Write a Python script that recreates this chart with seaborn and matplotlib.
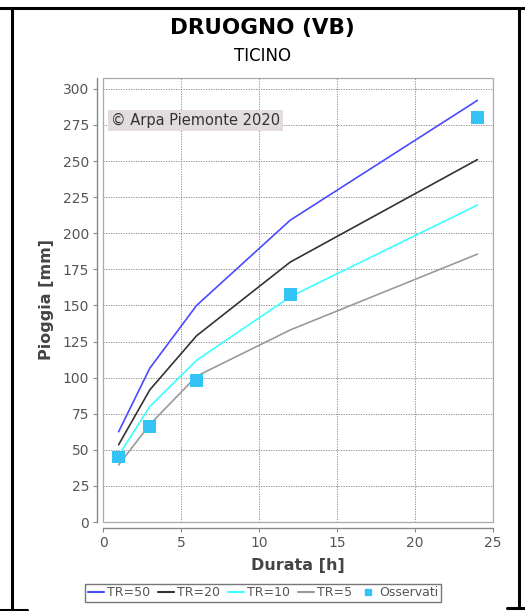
import numpy as np
import pandas as pd
import matplotlib
matplotlib.use("Agg")
import matplotlib.pyplot as plt
from matplotlib.lines import Line2D
from matplotlib.patches import Rectangle
import seaborn as sns

durations = [1, 3, 6, 12, 24]
tr50 = [62.5, 106.5, 150, 209, 292]
tr20 = [53.5, 91.5, 129, 180, 251]
tr10 = [46, 80, 112, 156, 219.5]
tr5 = [39.5, 67.5, 101, 133, 185.5]
obs_dur = [1, 3, 6, 12, 24]
obs_val = [45, 66, 98, 157.5, 280]
series_names = ["TR=50", "TR=20", "TR=10", "TR=5"]
colors = {"TR=50": "#4a4aff", "TR=20": "#333333", "TR=10": "#3cffff", "TR=5": "#9a9a9a"}
obs_color = "#33c4f5"

rows = []
for name, vals in zip(series_names, [tr50, tr20, tr10, tr5]):
    for d, v in zip(durations, vals):
        rows.append({"Durata": d, "Pioggia": v, "Serie": name})
df = pd.DataFrame(rows)
dobs = pd.DataFrame({"Durata": obs_dur, "Pioggia": obs_val})

sns.set_theme(style="white")
plt.rcParams['font.family'] = ['DejaVu Sans']

W, H = 525, 611
fig = plt.figure(figsize=(W / 100, H / 100), dpi=100)
ax = fig.add_axes([103 / W, 1 - 522 / H, (493 - 103) / W, (522 - 78) / H])

sns.lineplot(data=df, x="Durata", y="Pioggia", hue="Serie", hue_order=series_names,
             palette=colors, linewidth=1.2, ax=ax, legend=False, sort=False, zorder=3)
sns.scatterplot(data=dobs, x="Durata", y="Pioggia", marker="s", s=85, color=obs_color,
                edgecolor="none", ax=ax, zorder=4, legend=False)

ax.set_xlim(0, 25)
ax.set_ylim(0, 307.5)
ax.set_xticks([0, 5, 10, 15, 20, 25])
ax.set_yticks(np.arange(0, 301, 25))
ax.grid(True, color="#808080", linestyle=(0, (1.5, 1.5)), linewidth=0.6)
ax.set_axisbelow(True)

for s in ["top", "right"]:
    ax.spines[s].set_visible(False)
for s in ["left", "bottom"]:
    ax.spines[s].set_position(("outward", 4))
    ax.spines[s].set_color("#888888")
    ax.spines[s].set_linewidth(1.0)
ax.add_patch(Rectangle((0, 0), 1, 1, transform=ax.transAxes, fill=False,
                       edgecolor="#aaaaaa", linewidth=0.9, zorder=5, clip_on=False))
ax.tick_params(axis="both", which="both", direction="out", length=3, width=0.8,
               color="#888888", labelcolor="#555555", labelsize=10, pad=3,
               left=True, bottom=True)

ax.set_xlabel("Durata [h]", fontsize=11.5, fontweight="bold", color="#444444", labelpad=6)
ax.set_ylabel("Pioggia [mm]", fontsize=11.5, fontweight="bold", color="#444444", labelpad=6)

ax.text(0.02, 0.905, "\u00a9 Arpa Piemonte 2020", transform=ax.transAxes, fontsize=10.5,
        color="#333333", va="center", ha="left", zorder=6,
        bbox=dict(boxstyle="square,pad=0.2", facecolor="#e3dcdc", edgecolor="none"))

fig.text(262 / W, 1 - 28 / H, "DRUOGNO (VB)", ha="center", va="center",
         fontsize=15.5, fontweight="bold", color="black")
fig.text(262 / W, 1 - 56 / H, "TICINO", ha="center", va="center",
         fontsize=12, color="black")

handles = [Line2D([0], [0], color=colors[n], lw=1.5) for n in series_names]
handles.append(Line2D([0], [0], color=obs_color, marker="s", linestyle="none", markersize=5))
leg = fig.legend(handles, series_names + ["Osservati"], loc="center",
                 bbox_to_anchor=(263 / W, 1 - 593 / H), ncol=5, frameon=True,
                 fontsize=9, handlelength=1.3, handletextpad=0.25, columnspacing=0.6,
                 borderpad=0.2, fancybox=False, borderaxespad=0)
leg.get_frame().set_edgecolor("#555555")
leg.get_frame().set_linewidth(1.0)
for t in leg.get_texts():
    t.set_color("#555555")

# outer frame lines
def fl(xs, ys):
    fig.add_artist(Line2D([x / W for x in xs], [1 - y / H for y in ys],
                          color="black", linewidth=2.2, transform=fig.transFigure))
fl([0, 525], [8, 8])
fl([12, 12], [8, 611])
fl([0, 27], [610, 610])
fl([519, 519], [8, 608])
fl([507, 525], [608, 608])

fig.savefig("out.png", dpi=100)
